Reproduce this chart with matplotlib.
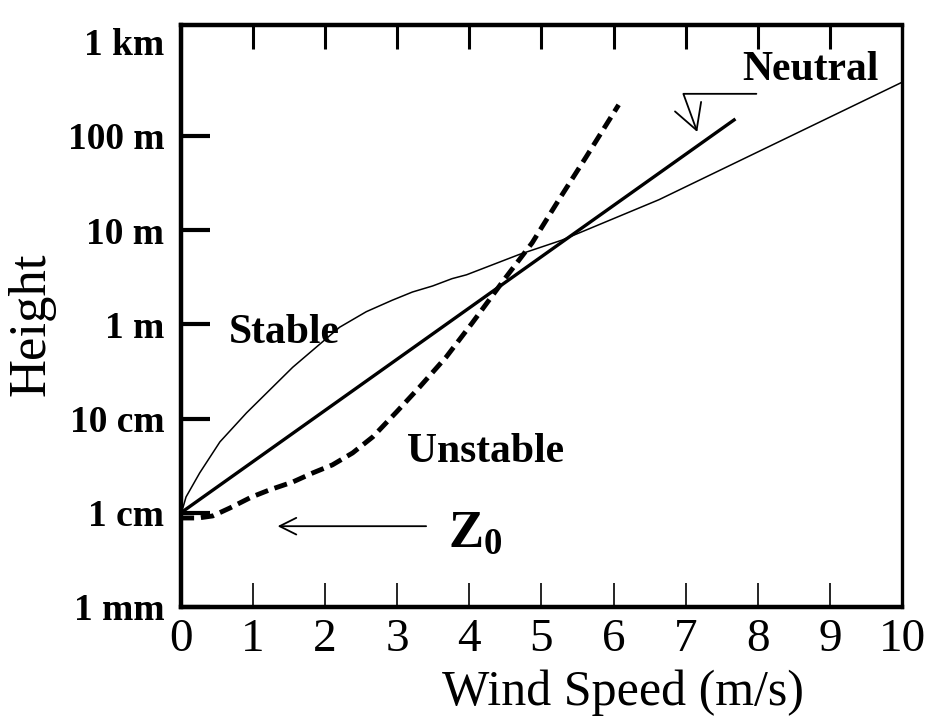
import matplotlib
matplotlib.use('Agg')
import matplotlib.pyplot as plt

plt.rcParams['font.family'] = ['Liberation Serif', 'DejaVu Serif']
plt.rcParams['mathtext.fontset'] = 'custom'
plt.rcParams['mathtext.bf'] = 'Liberation Serif:bold'
plt.rcParams['mathtext.rm'] = 'Liberation Serif'

# wind speed (m/s) and height (m)
neutral_u = [0.0, 2.2, 4.14, 7.69]
neutral_z = [0.01, 0.157, 1.78, 151]

stable_u = [0.0, 0.03, 0.07, 0.26, 0.54, 0.91, 1.55, 2.20, 2.57, 2.93, 3.21, 3.49, 3.76,
            3.96, 4.69, 5.28, 6.63, 10.0]
stable_z = [0.01, 0.0115, 0.0147, 0.0265, 0.0565, 0.115, 0.35, 0.93, 1.36, 1.8, 2.2, 2.55, 3.05,
            3.35, 5.5, 7.8, 21, 370]

unstable_u = [0.0, 0.24, 0.44, 0.68, 0.98, 1.23, 1.55, 1.83, 2.10, 2.38, 2.66, 2.99, 3.31,
              3.68, 4.04, 4.51, 4.87, 5.24, 5.62, 6.07]
unstable_z = [0.0088, 0.0088, 0.00925, 0.01125, 0.0147, 0.0175, 0.0212, 0.0265, 0.0322, 0.0431,
              0.0638, 0.1175, 0.216, 0.451, 1.035, 3.18, 7.31, 20.9, 59.8, 213]

x_ticks = list(range(0, 11))
y_ticks = [0.001, 0.01, 0.1, 1, 10, 100, 1000]
y_labels = ['1 mm', '1 cm', '10 cm', '1 m', '10 m', '100 m', '1 km']

fig = plt.figure(figsize=(9.3, 7.22), dpi=100)
ax = fig.add_axes([0.1946, 0.1593, 0.7753, 0.8061])

ax.plot(stable_u, stable_z, color='black', lw=1.1)
ax.plot(neutral_u, neutral_z, color='black', lw=2.4, solid_capstyle='butt')
ax.plot(unstable_u, unstable_z, color='black', lw=3.5, linestyle=(0, (2.7, 1.4)),
        dash_capstyle='butt')

ax.set_yscale('log')
ax.set_xlim(0, 10)
ax.set_ylim(0.001, 1500)

ax.set_xticks(x_ticks)
ax.set_xticklabels([str(t) for t in x_ticks], fontsize=34)
ax.set_yticks(y_ticks)
ax.set_yticklabels(y_labels, fontsize=27, fontweight='bold')
ax.yaxis.set_minor_locator(matplotlib.ticker.NullLocator())
ax.tick_params(axis='x', direction='in', length=17, width=1.2, top=True, pad=8)
ax.tick_params(axis='y', direction='in', length=21, width=3, pad=12)
for tick in ax.xaxis.get_major_ticks():
    tick.tick2line.set_markeredgewidth(2.2)
# no tick mark next to the 1 km label, only the text
ax.yaxis.get_major_ticks()[-1].tick1line.set_visible(False)

for side in ['left', 'bottom', 'top']:
    ax.spines[side].set_linewidth(3.2)
ax.spines['right'].set_linewidth(2.4)

ax.set_xlabel('Wind Speed (m/s)', fontsize=36, va='center')
ax.xaxis.set_label_coords(0.613, -0.148)
ax.set_ylabel('Height', fontsize=38, va='center')
ax.yaxis.set_label_coords(-0.207, 0.486)

# labels on the curves
ax.text(1.44, 0.81, 'Stable', fontsize=30, fontweight='bold', ha='center', va='center')
ax.text(4.22, 0.044, 'Unstable', fontsize=30, fontweight='bold', ha='center', va='center')
ax.text(8.73, 500, 'Neutral', fontsize=30, fontweight='bold', ha='center', va='center')

ax.annotate('', xy=(7.16, 110), xytext=(7.98, 279),
            arrowprops=dict(arrowstyle='->,head_length=0.9,head_width=0.5', color='black',
                            lw=1.3, mutation_scale=20,
                            connectionstyle='angle,angleA=0,angleB=110,rad=0',
                            shrinkA=0, shrinkB=0))

ax.annotate('', xy=(1.34, 0.0072), xytext=(3.40, 0.0072),
            arrowprops=dict(arrowstyle='->,head_length=0.8,head_width=0.4', color='black',
                            lw=1.3, mutation_scale=15, shrinkA=0, shrinkB=0))
ax.text(3.71, 0.00434, r'$\mathbf{Z_0}$', fontsize=38, ha='left', va='baseline')

fig.savefig('out.png', dpi=100)
